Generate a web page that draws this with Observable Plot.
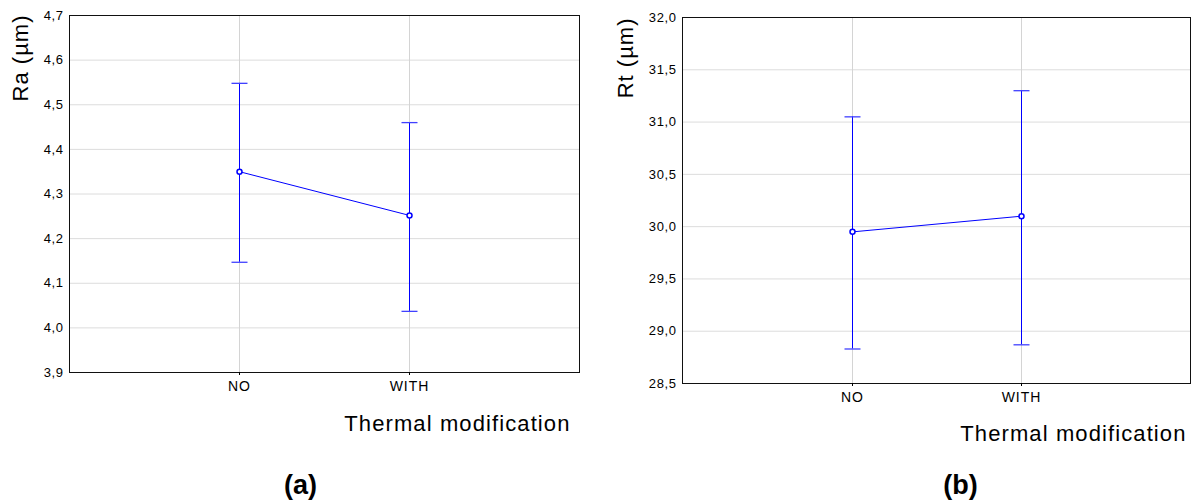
<!DOCTYPE html>
<html><head><meta charset="utf-8">
<script src="https://cdn.jsdelivr.net/npm/d3@7"></script>
<script src="https://cdn.jsdelivr.net/npm/@observablehq/plot@0.6"></script>
<style>
body{margin:0;background:#fff;}
#wrap{position:relative;width:1191px;height:504px;overflow:hidden;font-family:"Liberation Sans",Arial,sans-serif;}
#wrap svg{position:absolute;top:0;overflow:visible;}
</style></head><body><div id="wrap"></div>
<script>
const categories = ["NO", "WITH"];
const raMean = [4.35, 4.252];
const raLow = [4.147, 4.037];
const raHigh = [4.548, 4.46];
const rtMean = [29.95, 30.10];
const rtLow = [28.83, 28.87];
const rtHigh = [31.05, 31.30];
const raTicks = [3.9, 4.0, 4.1, 4.2, 4.3, 4.4, 4.5, 4.6, 4.7];
const rtTicks = [28.5, 29.0, 29.5, 30.0, 30.5, 31.0, 31.5, 32.0];

const capSymbol = {draw(ctx) { ctx.moveTo(-8, 0); ctx.lineTo(8, 0); }};
const fmt = d => d.toFixed(1).replace(".", ",");

function panel(o) {
  const data = categories.map((c, i) => ({cat: c, mean: o.mean[i], low: o.low[i], high: o.high[i]}));
  const p = Plot.plot({
    width: o.width, height: o.height,
    marginLeft: o.ml, marginRight: o.mr, marginTop: o.mt, marginBottom: o.mb,
    style: {fontFamily: '"Liberation Sans", Arial, sans-serif', background: "#fff", color: "#000"},
    x: {type: "point", domain: categories, padding: 1},
    y: {domain: [o.ticks[0], o.ticks[o.ticks.length - 1]]},
    marks: [
      Plot.gridY(o.ticks, {stroke: "#dcdcdc", strokeOpacity: 1}),
      Plot.gridX(categories, {stroke: "#d4d4d4", strokeOpacity: 1}),
      Plot.frame({stroke: "#111"}),
      Plot.axisY(o.ticks, {tickSize: 0, tickPadding: 6, tickFormat: fmt, fontSize: 13, label: null}),
      Plot.axisX({tickSize: 3, tickPadding: 6, fontSize: 14, label: null}),
      Plot.ruleX(data, {x: "cat", y1: "low", y2: "high", stroke: "#0000ff", strokeWidth: 1}),
      Plot.dot(data, {x: "cat", y: "low", symbol: capSymbol, fill: "none", stroke: "#4040ff", strokeWidth: 1.3}),
      Plot.dot(data, {x: "cat", y: "high", symbol: capSymbol, fill: "none", stroke: "#4040ff", strokeWidth: 1.3}),
      Plot.line(data, {x: "cat", y: "mean", stroke: "#0000ff", strokeWidth: 1}),
      Plot.dot(data, {x: "cat", y: "mean", r: 2.5, fill: "#fff", stroke: "#0000ff", strokeWidth: 1.5}),
      Plot.text([o.yLabel], {frameAnchor: "top-left", rotate: -90, textAnchor: "end", lineAnchor: "middle", dx: o.ylDx, dy: o.ylDy, fontSize: 22, fill: "#000"}),
      Plot.text(["Thermal modification"], {frameAnchor: "bottom-right", textAnchor: "end", lineAnchor: "middle", dx: o.xlDx, dy: o.xlDy, fontSize: 22, fill: "#000"}),
      Plot.text([o.tag], {frameAnchor: "bottom", textAnchor: "middle", lineAnchor: "middle", dx: o.tagDx, dy: o.tagDy, fontSize: 27, fontWeight: "bold", fill: "#000"})
    ]
  });
  const s = d3.select(p);
  s.selectAll('g[aria-label="y-axis tick label"] text').attr("letter-spacing", "0.6");
  s.selectAll('g[aria-label="x-axis tick label"] text').attr("letter-spacing", "1");
  const texts = s.selectAll('g[aria-label="text"]').nodes();
  d3.select(texts[0]).attr("letter-spacing", "1");
  d3.select(texts[1]).attr("letter-spacing", "1.1");
  p.style.left = o.left + "px";
  document.getElementById("wrap").appendChild(p);
}

panel({left: 0, width: 595, height: 504, ml: 69, mr: 16, mt: 15, mb: 132,
  mean: raMean, low: raLow, high: raHigh, ticks: raTicks, yLabel: "Ra (µm)",
  ylDx: -49, ylDy: -1, xlDx: -9, xlDy: 51, tag: "(a)", tagDx: -24, tagDy: 113});
panel({left: 595, width: 596, height: 504, ml: 87, mr: 1, mt: 17, mb: 121,
  mean: rtMean, low: rtLow, high: rtHigh, ticks: rtTicks, yLabel: "Rt (µm)",
  ylDx: -57, ylDy: 0, xlDx: -4, xlDy: 50, tag: "(b)", tagDx: 24, tagDy: 102});
</script></body></html>
